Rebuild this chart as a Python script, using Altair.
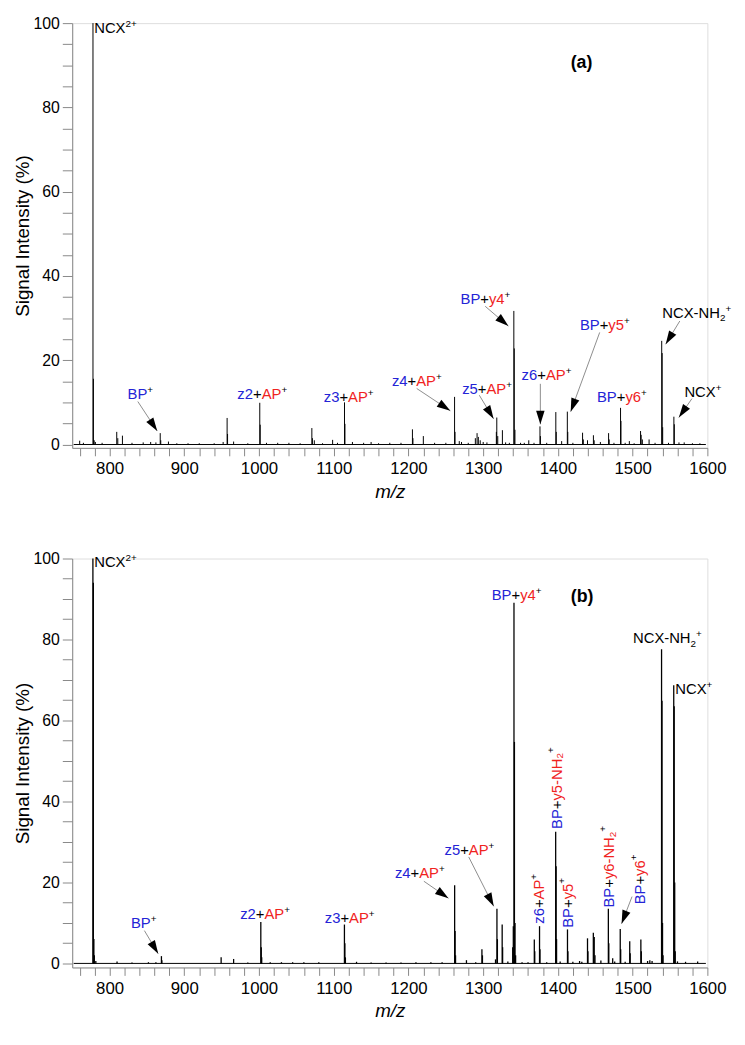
import math
import altair as alt
import pandas as pd

FONT = "Liberation Sans"
COLORS = {"b": "#2424d6", "r": "#f0231e", "k": "#000000"}

X_DOMAIN = [750, 1600]
W = 643
A_Y = [-0.8, 100]
A_H = 430
B_Y = [-1.0, 100]
B_H = 414

# ---------------- spectrum (a): m/z and relative intensity (%) ----------------
a_mz = [760, 765, 777.8, 778.4, 779.4, 781, 790, 809.6, 811, 817.2, 830, 845, 855, 862,
        867.8, 868.5, 878.8, 890, 905, 920, 940, 952, 957.3, 957.9, 966, 985,
        1001.0, 1001.6, 1010, 1025, 1040, 1055, 1070.7, 1071.5, 1074, 1085, 1098.5, 1105,
        1114.4, 1115.0, 1125, 1140, 1150, 1160, 1175, 1190, 1205.3, 1206, 1219.9, 1235, 1250,
        1261.7, 1262.3, 1268, 1271, 1280, 1289.5, 1291.8, 1293.5, 1296, 1300, 1305,
        1317.6, 1318.2, 1319.5, 1325.7, 1330, 1335, 1341.0, 1341.6, 1342.5, 1350, 1355,
        1361, 1368, 1376.0, 1376.6, 1385, 1397.2, 1397.8, 1405, 1412.6, 1413.2, 1420,
        1433, 1434, 1439.6, 1447.5, 1448.5, 1456.8, 1467.8, 1468.6, 1475,
        1483.8, 1484.4, 1490, 1495.6, 1502, 1510.6, 1511.4, 1513, 1522, 1530,
        1538.9, 1539.5, 1540.2, 1548, 1555.2, 1555.8, 1562, 1569, 1580, 1590]
a_int = [0.9, 0.4, 100, 15.6, 1.0, 0.6, 0.4, 3.0, 1.5, 2.1, 0.4, 0.5, 0.6, 0.5,
         2.7, 1.0, 0.7, 0.3, 0.3, 0.3, 0.3, 0.6, 6.3, 2.5, 0.7, 0.3,
         9.9, 4.7, 0.4, 0.4, 0.4, 0.3, 3.9, 1.5, 1.0, 0.3, 1.1, 0.4,
         10.0, 4.9, 0.6, 0.4, 0.6, 0.3, 0.4, 0.4, 3.6, 1.5, 2.0, 0.4, 0.4,
         11.3, 3.0, 0.8, 0.6, 0.4, 1.5, 2.7, 1.8, 1.0, 0.6, 0.5,
         3.0, 6.4, 2.0, 3.4, 0.5, 0.4, 31.7, 22.8, 3.5, 0.4, 0.4,
         1.0, 0.4, 4.3, 2.0, 0.4, 7.7, 3.0, 0.8, 7.8, 3.0, 0.4,
         2.8, 1.2, 1.0, 2.2, 1.0, 0.6, 2.7, 1.2, 0.4,
         8.7, 5.6, 0.4, 0.8, 0.3, 3.2, 2.3, 1.2, 1.2, 0.4,
         24.6, 21.7, 4.1, 0.4, 6.6, 4.8, 0.5, 0.5, 0.3, 0.3]

# ---------------- spectrum (b) ----------------
b_mz = [777.7, 778.3, 779.0, 779.6, 781.6, 810, 830, 852, 862, 869.4, 870.0, 949.3, 966, 985,
        1002.4, 1003.0, 1003.6, 1015, 1030, 1045, 1060, 1080, 1114.3, 1114.9, 1115.6, 1130.5,
        1150, 1170, 1190, 1210, 1230, 1245, 1261.8, 1262.4, 1263.0, 1277.6, 1290, 1298.3, 1299.0,
        1316.5, 1318.4, 1319.0, 1325.4, 1326.0, 1333, 1339.5, 1340.3, 1341.2, 1341.8, 1342.6, 1343.4,
        1352, 1360, 1368.4, 1369.0, 1375.4, 1376.0, 1385, 1397.0, 1397.6, 1398.2, 1403, 1412.8, 1413.4,
        1420, 1429, 1432, 1439.6, 1440.2, 1447.4, 1448.6, 1449.6, 1457.5, 1467.5, 1468.1, 1473.3,
        1476, 1483.4, 1484.0, 1490, 1496.1, 1496.7, 1511.0, 1511.6, 1520, 1523, 1526,
        1538.7, 1539.3, 1540.0, 1540.7, 1555.0, 1555.6, 1556.3, 1557.0, 1560, 1570.8, 1587]
b_int = [100, 94, 6.0, 2.0, 0.6, 0.5, 0.2, 0.3, 0.3, 1.8, 0.8, 1.5, 1.1, 0.2,
         10.2, 4.0, 1.5, 0.3, 0.3, 0.3, 0.3, 0.3, 9.6, 5.0, 1.5, 0.4,
         0.2, 0.2, 0.2, 0.3, 0.3, 0.3, 19.3, 8.0, 2.0, 0.8, 0.3, 3.5, 2.0,
         1.0, 13.5, 6.0, 9.6, 4.0, 0.5, 4.0, 9.2, 89.1, 54.7, 10.0, 2.0,
         0.3, 0.3, 5.9, 3.0, 9.2, 3.5, 0.3, 32.5, 24.0, 6.0, 0.5, 8.4, 3.0,
         0.4, 0.6, 0.4, 6.2, 3.0, 7.6, 6.5, 2.0, 0.7, 13.5, 5.0, 1.3,
         0.5, 8.5, 3.5, 0.4, 5.5, 2.5, 5.9, 3.0, 0.6, 0.8, 0.6,
         77.6, 64.9, 10.0, 2.0, 68.7, 63.5, 20.0, 3.0, 0.5, 0.4, 0.5]

SCAN_RANGE = [752, 1598]

# ---------------- label contents: (text, colour, kind) ----------------
LABELS = {
    "NCX2+": [("NCX", "k", "n"), ("2+", "k", "sup")],
    "BP+": [("BP", "b", "n"), ("+", "k", "sup")],
    "z2+AP+": [("z2", "b", "n"), ("+", "k", "n"), ("AP", "r", "n"), ("+", "k", "sup")],
    "z3+AP+": [("z3", "b", "n"), ("+", "k", "n"), ("AP", "r", "n"), ("+", "k", "sup")],
    "z4+AP+": [("z4", "b", "n"), ("+", "k", "n"), ("AP", "r", "n"), ("+", "k", "sup")],
    "z5+AP+": [("z5", "b", "n"), ("+", "k", "n"), ("AP", "r", "n"), ("+", "k", "sup")],
    "z6+AP+": [("z6", "b", "n"), ("+", "k", "n"), ("AP", "r", "n"), ("+", "k", "sup")],
    "BP+y4+": [("BP", "b", "n"), ("+", "k", "n"), ("y4", "r", "n"), ("+", "k", "sup")],
    "BP+y5+": [("BP", "b", "n"), ("+", "k", "n"), ("y5", "r", "n"), ("+", "k", "sup")],
    "BP+y6+": [("BP", "b", "n"), ("+", "k", "n"), ("y6", "r", "n"), ("+", "k", "sup")],
    "BP+y5-NH2+": [("BP", "b", "n"), ("+", "k", "n"), ("y5-NH", "r", "n"), ("2", "r", "sub"), ("+", "k", "sup")],
    "BP+y6-NH2+": [("BP", "b", "n"), ("+", "k", "n"), ("y6-NH", "r", "n"), ("2", "r", "sub"), ("+", "k", "sup")],
    "NCX-NH2+": [("NCX-NH", "k", "n"), ("2", "k", "sub"), (" +", "k", "sup")],
    "NCX+": [("NCX", "k", "n"), ("+", "k", "sup")],
}

# panel (a) labels: key, m/z, intensity of text start
a_lab_key = ["NCX2+", "BP+", "z2+AP+", "z3+AP+", "z4+AP+", "BP+y4+", "z5+AP+", "z6+AP+",
             "BP+y5+", "BP+y6+", "NCX-NH2+", "NCX+"]
a_lab_mz = [779.5, 824.1, 971.0, 1086.6, 1177.9, 1269.7, 1271.9, 1351.4, 1429.4, 1452.3, 1539.7, 1569.3]
a_lab_pct = [97.6, 10.7, 10.7, 10.2, 13.8, 33.4, 12.1, 15.4, 27.1, 10.2, 30.1, 11.3]
a_lab_rot = [False] * 12

a_arr_mz1 = [837.8, 1211.0, 1302.7, 1294.8, 1376.5, 1455.9, 1563.1, 1579.4]
a_arr_p1 = [10.2, 13.3, 32.8, 11.7, 14.4, 26.6, 29.3, 10.9]
a_arr_mz2 = [863.8, 1256.0, 1333.7, 1313.9, 1376.5, 1417.1, 1544.2, 1561.8]
a_arr_p2 = [3.2, 8.0, 28.1, 6.1, 4.8, 7.8, 23.8, 6.4]

# panel (b) labels
b_lab_key = ["NCX2+", "BP+", "z2+AP+", "z3+AP+", "z4+AP+", "z5+AP+", "BP+y4+", "NCX-NH2+", "NCX+",
             "z6+AP+", "BP+y5+", "BP+y5-NH2+", "BP+y6-NH2+", "BP+y6+"]
b_lab_mz = [779.5, 828.6, 974.8, 1088.0, 1181.9, 1248.2, 1311.4, 1500.5, 1557.1,
            1375.4, 1413.6, 1398.3, 1468.5, 1509.3]
b_lab_pct = [97.8, 8.8, 11.0, 10.0, 21.0, 26.8, 89.8, 79.1, 66.5,
             9.8, 8.8, 33.2, 13.8, 14.6]
b_lab_rot = [False] * 9 + [True] * 5

b_arr_mz1 = [846.6, 1220.6, 1280.6, 1499.2]
b_arr_p1 = [8.1, 20.3, 26.3, 16.5]
b_arr_mz2 = [865.1, 1253.5, 1314.1, 1485.2]
b_arr_p2 = [2.4, 16.1, 14.1, 9.8]

PANEL_TAG = ["(a)", "(b)"]
TAG_MZ = [1431.6, 1432.3]
TAG_PCT = [89.4, 89.3]

# ---------------- helpers ----------------
FS = 15
FS_SMALL = 10
SUP = 6.0
SUB = 3.5
ARIAL = {'N': 722, 'C': 722, 'X': 667, '-': 333, 'H': 722, 'B': 667, 'P': 667, 'A': 667,
         '+': 584, 'z': 500, 'y': 500, ' ': 278}


def text_w(s, size):
    return sum(ARIAL.get(c, 556) for c in s) * size / 1000.0


def label_rows(keys, mzs, pcts, rots, ppx, ppy):
    rows = []
    for key, mz, pct, rot in zip(keys, mzs, pcts, rots):
        pos = 0.0
        for txt, col, kind in LABELS[key]:
            size = FS if kind == "n" else FS_SMALL
            shift = {"n": 0.0, "sup": SUP, "sub": -SUB}[kind]
            if rot:
                x = mz - shift / ppx
                y = pct + pos / ppy
            else:
                x = mz + pos / ppx
                y = pct + shift / ppy
            rows.append(dict(mz=x, pct=y, txt=txt, col=COLORS[col], size=size, rot=rot))
            pos += text_w(txt, size)
    return pd.DataFrame(rows)


def arrow_df(m1, p1, m2, p2, ppx, ppy):
    rows = []
    for a, b, c, d in zip(m1, p1, m2, p2):
        sx = (c - a) * ppx
        sy = -(d - b) * ppy
        ang = math.degrees(math.atan2(sx, -sy)) % 360
        rows.append(dict(mz=a, pct=b, mz2=c, pct2=d, ang=ang))
    return pd.DataFrame(rows)


def make_panel(mz, inten, keys, lmz, lpct, lrot, am1, ap1, am2, ap2, tag, tag_mz, tag_pct,
               ydom, height, sw):
    ppx = W / (X_DOMAIN[1] - X_DOMAIN[0])
    ppy = height / (ydom[1] - ydom[0])
    xs = alt.Scale(domain=X_DOMAIN, nice=False, zero=False)
    ys = alt.Scale(domain=ydom, nice=False, zero=False)
    xax = alt.Axis(values=list(range(760, 1601, 20)),
                   labelExpr="datum.value % 100 == 0 ? datum.label : ''",
                   format="d", tickSize=8, labelFontSize=17, labelPadding=5,
                   labelFlush=False, labelOverlap=False, title="m/z",
                   titleFontStyle="italic", titleFontSize=19, titleFontWeight="normal",
                   titlePadding=6, grid=False)
    yax = alt.Axis(values=list(range(0, 101, 5)),
                   labelExpr="datum.value % 20 == 0 ? datum.label : ''",
                   tickSize=10, labelFontSize=16, labelPadding=3, labelOverlap=False,
                   labelFlush=False, title="Signal Intensity (%)", titleFontSize=19,
                   titleFontWeight="normal", titlePadding=1, grid=False)

    def X(f="mz"):
        return alt.X(f + ":Q", scale=xs, axis=xax)

    def Y(f="pct"):
        return alt.Y(f + ":Q", scale=ys, axis=yax)

    spec = pd.DataFrame({"mz": mz, "pct": [0.0] * len(mz), "pct2": inten})
    base = pd.DataFrame({"mz": [SCAN_RANGE[0]], "mz2": [SCAN_RANGE[1]], "pct": [0.0]})
    arr = arrow_df(am1, ap1, am2, ap2, ppx, ppy)
    lab = label_rows(keys, lmz, lpct, lrot, ppx, ppy)
    tagdf = pd.DataFrame({"mz": [tag_mz], "pct": [tag_pct], "txt": [tag]})

    l_base = alt.Chart(base).mark_rule(color="black", strokeWidth=1).encode(
        x=X(), x2="mz2:Q", y=Y())
    l_spec = alt.Chart(spec).mark_rule(color="black", strokeWidth=sw).encode(
        x=X(), y=Y(), y2="pct2:Q")
    l_arr = alt.Chart(arr).mark_rule(color="#707070", strokeWidth=0.8).encode(
        x=X(), y=Y(), x2="mz2:Q", y2="pct2:Q")
    l_head = alt.Chart(arr).mark_point(shape="M0,0L-0.75,2.4L0.75,2.4Z", filled=True,
                                       size=130, color="black", opacity=1,
                                       strokeWidth=0).encode(
        x=X("mz2"), y=Y("pct2"), angle=alt.Angle("ang:Q", scale=None))
    l_txt = alt.Chart(lab[~lab["rot"]]).mark_text(align="left", baseline="alphabetic",
                                                   font=FONT).encode(
        x=X(), y=Y(), text="txt:N", color=alt.Color("col:N", scale=None),
        size=alt.Size("size:Q", scale=None))
    layers = [l_base, l_spec, l_arr, l_head, l_txt]
    if lab["rot"].any():
        l_rot = alt.Chart(lab[lab["rot"]]).mark_text(align="left", baseline="middle",
                                                      font=FONT, angle=270).encode(
            x=X(), y=Y(), text="txt:N", color=alt.Color("col:N", scale=None),
            size=alt.Size("size:Q", scale=None))
        layers.append(l_rot)
    l_tag = alt.Chart(tagdf).mark_text(align="center", baseline="alphabetic", font=FONT,
                                       fontSize=18, fontWeight="bold", color="black").encode(
        x=X(), y=Y(), text="txt:N")
    layers.append(l_tag)
    return alt.layer(*layers).properties(width=W, height=height)


pa = make_panel(a_mz, a_int, a_lab_key, a_lab_mz, a_lab_pct, a_lab_rot,
                a_arr_mz1, a_arr_p1, a_arr_mz2, a_arr_p2, PANEL_TAG[0], TAG_MZ[0], TAG_PCT[0],
                A_Y, A_H, 1.0)
pb = make_panel(b_mz, b_int, b_lab_key, b_lab_mz, b_lab_pct, b_lab_rot,
                b_arr_mz1, b_arr_p1, b_arr_mz2, b_arr_p2, PANEL_TAG[1], TAG_MZ[1], TAG_PCT[1],
                B_Y, B_H, 1.3)

chart = alt.vconcat(pa, pb, spacing=48).properties(
    padding={"left": 4, "top": 0, "right": 5, "bottom": 2}
).configure_view(strokeWidth=0, stroke="transparent").configure_axis(
    labelFont=FONT, titleFont=FONT, labelColor="black", titleColor="black",
    domainColor="black", tickColor="black", domainWidth=1.6, tickWidth=1.2
).configure(background="white")

chart.save("out.html", embed_options={"renderer": "svg", "actions": False})
